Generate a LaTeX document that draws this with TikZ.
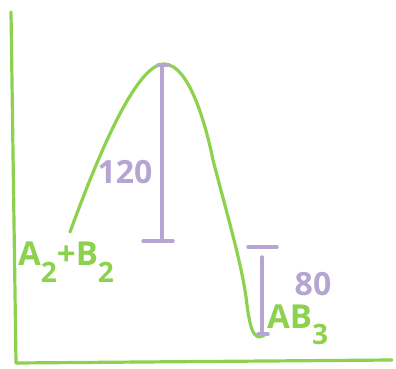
\documentclass[tikz,border=0pt]{standalone}
\usepackage{fontspec}
\setmainfont{Open Sans}
\usetikzlibrary{positioning}
\definecolor{chalkgreen}{HTML}{8CD24E}
\definecolor{chalkpurple}{HTML}{B4A5D2}
\newcommand{\subidx}[1]{\raisebox{-0.5em}{\scalebox{0.85}{#1}}}

\begin{document}
\begin{tikzpicture}[x=1pt, y=-1pt, line cap=round, line join=round,
    curve/.style={draw=chalkgreen, line width=3.2pt},
    gap/.style={draw=chalkpurple, line width=3.5pt},
    gaplabel/.style={text=chalkpurple, inner sep=0pt, font=\fontsize{32}{36}\selectfont\bfseries},
    species/.style={text=chalkgreen, inner sep=0pt, font=\fontsize{33}{38}\selectfont\bfseries}]
  \useasboundingbox (0,0) rectangle (396,369);
  % axes
  \coordinate (ytop) at (11,12);
  \coordinate (origin) at (16,363);
  \coordinate (xend) at (392,360);
  \draw[curve] (ytop) -- (origin) -- (xend);
  % energy profile
  \coordinate (start) at (70,232);
  \coordinate (peak) at (164,64);
  \coordinate (slope) at (213,160);
  \coordinate (bottom) at (266,334);
  \draw[curve] (start) .. controls (90,178) and (133,64) .. (peak)
    .. controls (190,64) and (207,130) .. (slope)
    .. controls (228,218) and (243,268) .. (247,305)
    .. controls (251,336) and (256,341) .. (bottom);
  % activation energy
  \coordinate (peakbase) at (162,241);
  \draw[gap] (158,65) -- (168,65);
  \draw[gap] (162,66) -- (peakbase);
  \draw[gap] ([xshift=-19pt]peakbase) -- ([xshift=11pt]peakbase);
  \node[gaplabel] (ea) at (125,172) {120};
  % reaction energy
  \coordinate (prodtop) at (262,247);
  \coordinate (prodbase) at (262,334);
  \draw[gap] ([xshift=-14pt]prodtop) -- ([xshift=15pt]prodtop);
  \draw[gap] ([yshift=-10pt]prodtop) -- (prodbase);
  \draw[gap] ([xshift=-4pt]prodbase) -- ([xshift=6pt]prodbase);
  \node[gaplabel] (dh) at (313,284) {80};
  % species
  \node[species, anchor=west] (reactant) at (18,262) {A\subidx{2}+B\subidx{2}};
  \node[species, anchor=west] (product) at (267,325) {AB\subidx{3}};
\end{tikzpicture}
\end{document}
